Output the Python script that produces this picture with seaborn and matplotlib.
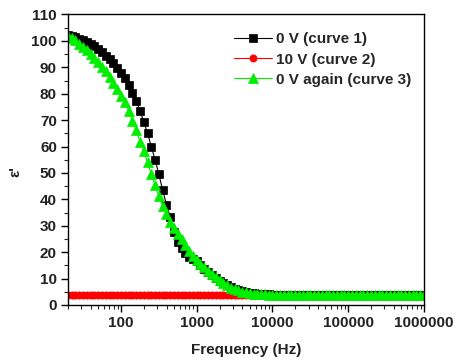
import numpy as np
import pandas as pd
import seaborn as sns
import matplotlib.pyplot as plt
from matplotlib.ticker import MultipleLocator, FixedLocator, LogLocator, NullFormatter

# measured frequencies (Hz), ~20 points per decade
freq = [
    20.0, 22.4, 25.1, 28.2, 31.6, 35.5, 39.8, 44.7, 50.1, 56.2, 63.1, 70.8, 79.4, 89.1,
    100, 112, 126, 141, 158, 178, 200, 224, 251, 282, 316, 355, 398, 447, 501, 562,
    631, 708, 794, 891,
    1000, 1120, 1260, 1410, 1580, 1780, 2000, 2240, 2510, 2820, 3160, 3550, 3980,
    4470, 5010, 5620, 6310, 7080, 7940, 8910,
    10000, 11200, 12600, 14100, 15800, 17800, 20000, 22400, 25100, 28200, 31600,
    35500, 39800, 44700, 50100, 56200, 63100, 70800, 79400, 89100,
    100000, 112000, 126000, 141000, 158000, 178000, 200000, 224000, 251000, 282000,
    316000, 355000, 398000, 447000, 501000, 562000, 631000, 708000, 794000, 891000,
    1000000,
]

# curve 1: 0 V
eps_0v = [
    102.4, 102.0, 101.5, 100.9, 100.2, 99.5, 98.8, 97.9, 96.9, 95.7, 94.4, 93.0, 91.5, 89.9,
    88.0, 85.8, 83.2, 80.4, 77.4, 73.6, 69.3, 65.1, 60.0, 55.0, 49.5, 43.5, 38.0, 33.5,
    27.5, 23.8,
    21.5, 19.8, 18.2, 17.3,
    16.5, 15.0, 13.8, 12.5, 11.3, 10.2, 9.2, 8.3, 7.5, 6.8, 6.2, 5.7, 5.3,
    5.0, 4.7, 4.5, 4.3, 4.2, 4.1, 4.0,
    3.95, 3.9, 3.9, 3.9, 3.85, 3.85, 3.85, 3.8, 3.8, 3.8, 3.8,
    3.8, 3.75, 3.75, 3.75, 3.75, 3.75, 3.7, 3.7, 3.7,
    3.7, 3.7, 3.7, 3.7, 3.7, 3.65, 3.65, 3.65, 3.65, 3.65,
    3.65, 3.65, 3.6, 3.6, 3.6, 3.6, 3.6, 3.6, 3.6, 3.6,
    3.6,
]

# curve 2: 10 V
eps_10v = [
    3.8, 3.8, 3.8, 3.8, 3.8, 3.8, 3.8, 3.8, 3.8, 3.8, 3.8, 3.8, 3.8, 3.8,
    3.8, 3.8, 3.8, 3.8, 3.8, 3.8, 3.8, 3.8, 3.8, 3.8, 3.8, 3.8, 3.8, 3.8, 3.8, 3.8,
    3.8, 3.8, 3.8, 3.8,
    3.75, 3.75, 3.75, 3.75, 3.75, 3.7, 3.7, 3.7, 3.7, 3.7, 3.65, 3.65, 3.65,
    3.65, 3.6, 3.6, 3.6, 3.6, 3.6, 3.55,
    3.55, 3.55, 3.55, 3.55, 3.5, 3.5, 3.5, 3.5, 3.5, 3.5, 3.5,
    3.5, 3.5, 3.45, 3.45, 3.45, 3.45, 3.45, 3.45, 3.45,
    3.45, 3.45, 3.45, 3.4, 3.4, 3.4, 3.4, 3.4, 3.4, 3.4,
    3.4, 3.4, 3.4, 3.4, 3.4, 3.4, 3.4, 3.4, 3.4, 3.4,
    3.4,
]

# curve 3: 0 V again
eps_0v_again = [
    101.8, 101.2, 100.3, 99.0, 97.8, 96.5, 95.0, 93.4, 92.0, 90.3, 88.6, 86.5, 84.2, 81.6,
    79.2, 76.8, 73.5, 69.6, 66.4, 61.8, 58.2, 54.0, 49.5, 45.3, 41.2, 37.5, 34.5, 31.6,
    29.3, 26.9,
    24.9, 22.8, 20.6, 18.6,
    16.9, 15.6, 14.3, 13.0, 11.7, 10.5, 9.3, 8.3, 7.4, 6.6, 6.0, 5.5, 5.1,
    4.8, 4.5, 4.3, 4.2, 4.1, 4.0, 3.95,
    3.9, 3.9, 3.9, 3.9, 3.85, 3.85, 3.85, 3.85, 3.8, 3.8, 3.8,
    3.8, 3.8, 3.8, 3.8, 3.8, 3.8, 3.75, 3.75, 3.75,
    3.75, 3.75, 3.75, 3.75, 3.75, 3.75, 3.7, 3.7, 3.7, 3.7,
    3.7, 3.7, 3.7, 3.7, 3.7, 3.7, 3.7, 3.7, 3.7, 3.7,
    3.7,
]

curve_labels = ['0 V (curve 1)', '10 V (curve 2)', '0 V again (curve 3)']
curve_colors = ['#000000', '#ff0000', '#00ee00']
curve_markers = ['s', 'o', '^']
x_ticks = [100, 1000, 10000, 100000, 1000000]
x_tick_labels = ['100', '1000', '10000', '100000', '1000000']

FS = 11

sns.set_style('ticks')
plt.rcParams['font.family'] = ['Liberation Sans', 'DejaVu Sans']
plt.rcParams['font.weight'] = 'bold'

fig = plt.figure(figsize=(4.55, 3.62), dpi=100)
ax = fig.add_axes([0.1495, 0.1575, 0.7824, 0.8025])

series = [eps_0v, eps_10v, eps_0v_again]
for vals, lab, col, mk in zip(series, curve_labels, curve_colors, curve_markers):
    df = pd.DataFrame({'freq': freq, 'eps': vals})
    sns.lineplot(data=df, x='freq', y='eps', ax=ax, color=col, marker=mk,
                 markersize=5.2 if mk != '^' else 6.5, markeredgecolor=col,
                 markeredgewidth=0.5, linewidth=0.8, label=lab)

ax.set_xscale('log')
ax.set_xlim(20, 1000000)
ax.set_ylim(0, 110)
ax.xaxis.set_major_locator(FixedLocator(x_ticks))
ax.set_xticklabels(x_tick_labels)
ax.xaxis.set_minor_locator(LogLocator(base=10, subs=np.arange(2, 10)))
ax.xaxis.set_minor_formatter(NullFormatter())
ax.yaxis.set_major_locator(MultipleLocator(10))
ax.yaxis.set_minor_locator(MultipleLocator(5))

ax.tick_params(axis='both', which='major', direction='out', length=5, width=1,
               labelsize=FS, colors='black', pad=3)
ax.tick_params(axis='both', which='minor', direction='out', length=3, width=0.8)
for lbl in ax.get_xticklabels() + ax.get_yticklabels():
    lbl.set_fontweight('bold')
    lbl.set_color('#222222')

for sp in ax.spines.values():
    sp.set_visible(True)
    sp.set_color('black')
    sp.set_linewidth(1.0)

ax.set_xlabel('Frequency (Hz)', fontsize=FS, fontweight='bold', color='#222222', labelpad=9)
ax.set_ylabel("ε'", fontsize=FS, fontweight='bold', color='#222222')
ax.yaxis.set_label_coords(-0.128, 0.46)

handles, labels = ax.get_legend_handles_labels()
ax.legend(handles, labels, loc='upper right', bbox_to_anchor=(0.995, 0.975), frameon=False,
          handlelength=2.5, handletextpad=0.3, labelspacing=0.4,
          borderaxespad=0.3, prop={'weight': 'bold', 'size': FS})

fig.savefig('out.png', dpi=100)
